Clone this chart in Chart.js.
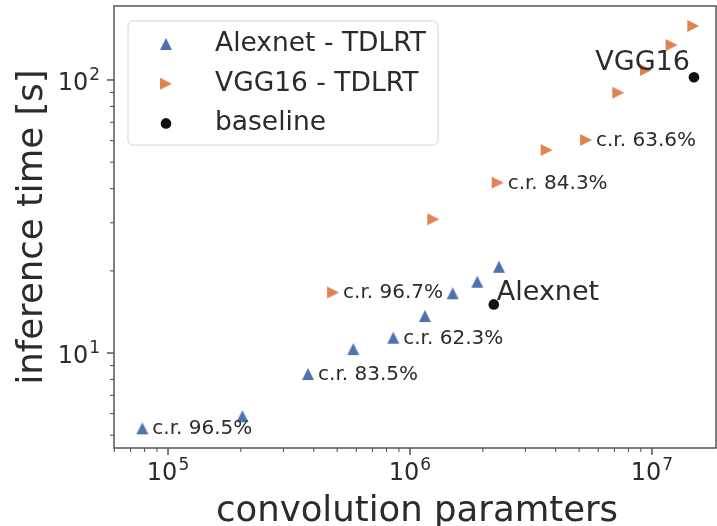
<!DOCTYPE html>
<html lang="en">
<head>
<meta charset="UTF-8">
<title>Inference time vs convolution parameters</title>
<script src="https://cdn.jsdelivr.net/npm/chart.js"></script>
<style>
    html, body { margin: 0; padding: 0; background: #fff; }
    #wrap { width: 717px; height: 526px; }
</style>
</head>
<body>
<div id="wrap"><canvas id="chart" width="717" height="526"></canvas></div>
<script>
// values
const alexParams = [7.83e4, 2.03e5, 3.79e5, 5.83e5, 8.53e5, 1.153e6, 1.501e6, 1.897e6, 2.332e6];
const alexTime   = [5.30, 5.87, 8.38, 10.34, 11.38, 13.66, 16.55, 18.25, 20.7];
const alexCR     = ['c.r. 96.5%', '', 'c.r. 83.5%', '', 'c.r. 62.3%', '', '', '', ''];

const vggParams = [4.81e5, 1.248e6, 2.303e6, 3.67e6, 5.34e6, 7.26e6, 9.45e6, 1.206e7, 1.482e7];
const vggTime   = [16.67, 30.9, 42.06, 55.4, 60.3, 89.8, 108.8, 134.3, 157.8];
const vggCR     = ['c.r. 96.7%', '', 'c.r. 84.3%', '', 'c.r. 63.6%', '', '', '', ''];

const baseNames  = ['Alexnet', 'VGG16'];
const baseParams = [2.22e6, 1.492e7];
const baseTime   = [15.07, 102.3];

const xTickExps = [5, 6, 7];
const yTickExps = [1, 2];

const BLUE = '#4C72B0', ORANGE = '#DD8452', BLACK = '#111111', INK = '#2b2b2b';
const FONT = '"DejaVu Sans", sans-serif';

// matplotlib-like triangle markers ('^' and '>')
function marker(kind, color) {
    const c = document.createElement('canvas');
    c.width = 14; c.height = 14;
    const g = c.getContext('2d');
    g.fillStyle = color;
    g.beginPath();
    if (kind === 'up') { g.moveTo(7, 1); g.lineTo(13, 13); g.lineTo(1, 13); }
    else { g.moveTo(1, 1); g.lineTo(13, 7); g.lineTo(1, 13); }
    g.closePath();
    g.fill();
    return c;
}
const triUp = marker('up', BLUE);
const triRight = marker('right', ORANGE);

function pts(xs, ys) { return xs.map((x, i) => ({ x: x, y: ys[i] })); }

function drawPow(ctx, exp, x, y, align) {
    // "10" with a superscript exponent; x is the anchor, y the baseline of "10"
    ctx.font = '24px ' + FONT;
    const wb = ctx.measureText('10').width;
    ctx.font = '17px ' + FONT;
    const we = ctx.measureText(String(exp)).width;
    const total = wb + 1 + we;
    let left = align === 'center' ? x - total / 2 : x - total;
    ctx.textAlign = 'left';
    ctx.textBaseline = 'alphabetic';
    ctx.font = '24px ' + FONT;
    ctx.fillText('10', left, y);
    ctx.font = '17px ' + FONT;
    ctx.fillText(String(exp), left + wb + 1, y - 10);
}

const decor = {
    id: 'decor',
    afterDatasetsDraw(chart) {
        const { ctx, chartArea: a, scales: { x, y } } = chart;
        ctx.save();
        ctx.fillStyle = INK;
        ctx.strokeStyle = '#555555';

        // log ticks, major and minor
        const drawTicks = (scale, horizontal) => {
            const lo = Math.floor(Math.log10(scale.min)), hi = Math.ceil(Math.log10(scale.max));
            for (let n = lo; n <= hi; n++) {
                for (let k = 1; k <= 9; k++) {
                    const v = k * Math.pow(10, n);
                    if (v < scale.min || v > scale.max) continue;
                    const p = scale.getPixelForValue(v);
                    const len = k === 1 ? 7 : 4;
                    ctx.lineWidth = k === 1 ? 1.5 : 1.1;
                    ctx.beginPath();
                    if (horizontal) { ctx.moveTo(p, a.bottom); ctx.lineTo(p, a.bottom + len); }
                    else { ctx.moveTo(a.left, p); ctx.lineTo(a.left - len, p); }
                    ctx.stroke();
                }
            }
        };
        drawTicks(x, true);
        drawTicks(y, false);

        // frame
        ctx.lineWidth = 1.5;
        ctx.strokeRect(a.left, a.top, a.right - a.left, a.bottom - a.top);

        // tick labels
        xTickExps.forEach(e => drawPow(ctx, e, x.getPixelForValue(Math.pow(10, e)), a.bottom + 32, 'center'));
        yTickExps.forEach(e => drawPow(ctx, e, a.left - 14, y.getPixelForValue(Math.pow(10, e)) + 10, 'right'));

        // axis titles
        ctx.font = '35.5px ' + FONT;
        ctx.textAlign = 'center';
        ctx.textBaseline = 'alphabetic';
        ctx.fillText('convolution paramters', (a.left + a.right) / 2 + 2, 521);
        ctx.save();
        ctx.translate(42, (a.top + a.bottom) / 2);
        ctx.rotate(-Math.PI / 2);
        ctx.fillText('inference time [s]', 0, 0);
        ctx.restore();

        // compression-ratio annotations
        ctx.font = '20px ' + FONT;
        ctx.textAlign = 'left';
        const note = (xs, ys, labels) => labels.forEach((t, i) => {
            if (!t) return;
            ctx.fillText(t, x.getPixelForValue(xs[i]) + 10, y.getPixelForValue(ys[i]) + 6);
        });
        note(alexParams, alexTime, alexCR);
        note(vggParams, vggTime, vggCR);

        // baseline names
        ctx.font = '27px ' + FONT;
        ctx.textAlign = 'left';
        ctx.fillText(baseNames[0], x.getPixelForValue(baseParams[0]) + 3, y.getPixelForValue(baseTime[0]) - 4);
        ctx.textAlign = 'right';
        ctx.fillText(baseNames[1], x.getPixelForValue(baseParams[1]) - 4, y.getPixelForValue(baseTime[1]) - 7);

        // legend
        const lx = a.left + 14, ly = a.top + 15, lw = 310, lh = 124, r = 5;
        ctx.beginPath();
        ctx.moveTo(lx + r, ly);
        ctx.arcTo(lx + lw, ly, lx + lw, ly + lh, r);
        ctx.arcTo(lx + lw, ly + lh, lx, ly + lh, r);
        ctx.arcTo(lx, ly + lh, lx, ly, r);
        ctx.arcTo(lx, ly, lx + lw, ly, r);
        ctx.closePath();
        ctx.fillStyle = 'rgba(255,255,255,0.85)';
        ctx.fill();
        ctx.strokeStyle = '#d6d6d6';
        ctx.lineWidth = 1;
        ctx.stroke();

        ctx.font = '26.5px ' + FONT;
        ctx.textAlign = 'left';
        chart.data.datasets.forEach((ds, i) => {
            const base = ly + 30 + i * 39.7;
            const mx = lx + 38, my = base - 7;
            if (ds.pointStyle instanceof HTMLCanvasElement) {
                ctx.drawImage(ds.pointStyle, mx - 7, my - 7);
            } else {
                ctx.beginPath();
                ctx.arc(mx, my, ds.pointRadius, 0, Math.PI * 2);
                ctx.fillStyle = ds.backgroundColor;
                ctx.fill();
            }
            ctx.fillStyle = INK;
            ctx.fillText(ds.label, lx + 87, base);
        });

        ctx.restore();
    }
};

const ctx = document.getElementById('chart').getContext('2d');
const chart = new Chart(ctx, {
    type: 'scatter',
    data: {
        datasets: [
            { label: 'Alexnet - TDLRT', data: pts(alexParams, alexTime), pointStyle: triUp, pointRadius: 7, backgroundColor: BLUE, borderColor: BLUE },
            { label: 'VGG16 - TDLRT', data: pts(vggParams, vggTime), pointStyle: triRight, pointRadius: 7, backgroundColor: ORANGE, borderColor: ORANGE },
            { label: 'baseline', data: pts(baseParams, baseTime), pointStyle: 'circle', pointRadius: 5.3, borderWidth: 0, backgroundColor: BLACK, borderColor: BLACK }
        ]
    },
    options: {
        responsive: false,
        animation: false,
        events: [],
        layout: { autoPadding: false, padding: { top: 6, right: 1, left: 0, bottom: 0 } },
        plugins: { legend: { display: false }, tooltip: { enabled: false } },
        scales: {
            x: {
                type: 'logarithmic', min: 5.98e4, max: 1.84e7, bounds: 'data',
                ticks: { display: false }, grid: { display: false }, border: { display: false },
                afterFit: s => { s.height = 78; }
            },
            y: {
                type: 'logarithmic', min: 4.49, max: 186.6, bounds: 'data',
                ticks: { display: false }, grid: { display: false }, border: { display: false },
                afterFit: s => { s.width = 114; }
            }
        }
    },
    plugins: [decor]
});
</script>
</body>
</html>
